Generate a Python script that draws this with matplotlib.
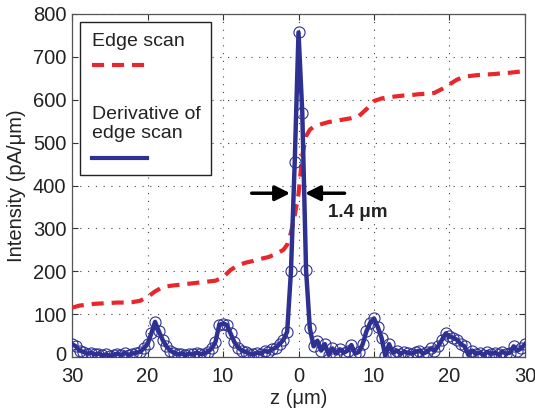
import numpy as np
import matplotlib
matplotlib.use("Agg")
import matplotlib.pyplot as plt
from matplotlib.lines import Line2D
from matplotlib.patches import Rectangle
from matplotlib.transforms import ScaledTranslation

plt.rcParams['font.family'] = ['Liberation Sans', 'DejaVu Sans']

# ---- data ----
edge_z = [-30, -29, -28, -27, -26, -25, -24, -23, -22, -21, -20, -19, -18, -17, -16, -15,
          -14, -13, -12, -11, -10, -9, -8, -7, -6, -5, -4, -3, -2, -1.5, -1, -0.5, 0,
          0.5, 1, 1.5, 2, 3, 4, 5, 6, 7, 8, 9, 10, 11, 12, 13, 14, 15, 16, 17, 18, 19,
          20, 21, 22, 23, 24, 25, 26, 27, 28, 29, 30]
edge_val = [115, 120, 122, 124, 125, 126, 127, 127, 128, 131, 140, 153, 163, 166, 168, 170,
            172, 174, 176, 178, 186, 203, 214, 220, 224, 229, 233, 240, 250, 262, 290, 330, 380,
            470, 515, 530, 537, 543, 548, 551, 554, 557, 562, 578, 597, 603, 606, 608, 610,
            611, 613, 614, 616, 625, 636, 647, 654, 656, 658, 659, 660, 662, 663, 665, 667]

deriv_z = np.linspace(-30, 30, 121)
deriv_val = [30, 25, 15, 12, 8, 10, 6, 8, 4, 6, 3, 5, 8, 4, 10, 5, 8, 10, 12, 20,
             30, 55, 82, 60, 40, 25, 15, 10, 6, 8, 5, 8, 6, 10, 7, 8, 12, 20, 35, 75,
             78, 75, 55, 35, 22, 15, 12, 8, 6, 10, 8, 14, 12, 18, 22, 30, 40, 59, 200, 455,
             757,
             570, 203, 67, 25, 38, 15, 30, 5, 20, 8, 18, 10, 15, 28, 8, 12, 30, 60, 80, 90,
             70, 45, 2, 30, 10, 15, 8, 12, 10, 8, 12, 15, 8, 12, 20, 15, 25, 40, 55, 48,
             45, 40, 30, 25, 5, 15, 8, 10, 5, 12, 8, 10, 6, 12, 8, 10, 25, 15, 20, 30]

xticks = [-30, -20, -10, 0, 10, 20, 30]
xtick_labels = ["30", "20", "10", "0", "10", "20", "30"]
yticks = [0, 100, 200, 300, 400, 500, 600, 700, 800]

fwhm_label = "1.4 μm"

red = '#E8262B'
blue = '#2E3192'
FS = 14.5

fig = plt.figure(figsize=(5.35, 4.09), dpi=100)
ax = fig.add_axes([0.1346, 0.1271, 0.8467, 0.8387])

ax.plot(edge_z, edge_val, color=red, lw=3.0, dashes=(2.9, 1.9), zorder=3)
ax.plot(deriv_z, deriv_val, color=blue, lw=3.2, zorder=4)
ax.plot(deriv_z, deriv_val, ls='none', marker='o', ms=8, mfc='none', mec=blue,
        mew=0.8, zorder=5)

ax.set_xlim(-30, 30)
ax.set_ylim(0, 800)
ax.set_xticks(xticks)
ax.set_xticklabels(xtick_labels)
ax.set_yticks(yticks)
ax.tick_params(direction='in', length=4, width=0.8, top=True, right=True,
               labelsize=FS, colors='#333333', labelcolor='#222222')
ax.tick_params(axis='x', pad=7)
ax.tick_params(axis='y', pad=4)
for s in ax.spines.values():
    s.set_color('#555555')
    s.set_linewidth(0.9)
ax.grid(True, color='#444444', linestyle=(0, (1, 6)), lw=0.8)
ax.set_axisbelow(True)

# nudge the "0" y tick label up slightly so it clears the x tick labels
lbl0 = ax.get_yticklabels()[0]
lbl0.set_transform(lbl0.get_transform() + ScaledTranslation(0, 0.04, fig.dpi_scale_trans))

ax.set_xlabel("z (μm)", fontsize=FS, color='#222222', labelpad=2)
ax.set_ylabel("Intensity (pA/μm)", fontsize=FS, color='#222222', labelpad=5)

# FWHM arrows
ax.annotate('', xy=(-1.1, 382), xytext=(-6.2, 382),
            arrowprops=dict(arrowstyle='-|>,head_length=0.9,head_width=0.45',
                            color='black', lw=2.5, shrinkA=0, shrinkB=0), zorder=6)
ax.annotate('', xy=(0.86, 382), xytext=(6.1, 382),
            arrowprops=dict(arrowstyle='-|>,head_length=0.9,head_width=0.45',
                            color='black', lw=2.5, shrinkA=0, shrinkB=0), zorder=6)
ax.text(3.9, 336, fwhm_label, fontsize=13.5, fontweight='bold', color='#222222',
        ha='left', va='center', zorder=6)

# Legend (manual, MATLAB style with text above sample lines)
tr = ax.transAxes
def ax_xy(px, py):
    return ((px - 72) / 453.0, (357 - py) / 343.0)

x0, y0 = ax_xy(80, 175)
x1, y1 = ax_xy(211, 22)
ax.add_patch(Rectangle((x0, y0), x1 - x0, y1 - y0, transform=tr, facecolor='white',
                       edgecolor='#222222', lw=1.0, zorder=7))
tx, ty = ax_xy(92, 42)
ax.text(tx, ty, "Edge scan", transform=tr, fontsize=14, color='#222222',
        va='center', ha='left', zorder=8)
lx0, ly = ax_xy(92, 65)
lx1, _ = ax_xy(147, 65)
ax.add_line(Line2D([lx0, lx1], [ly, ly], transform=tr, color=red, lw=3.0,
                   dashes=(2.9, 1.9), zorder=8))
tx, ty = ax_xy(92, 124)
ax.text(tx, ty, "Derivative of\nedge scan", transform=tr, fontsize=14, color='#222222',
        va='center', ha='left', linespacing=1.2, zorder=8)
lx0, ly = ax_xy(92, 158)
lx1, _ = ax_xy(147, 158)
ax.add_line(Line2D([lx0, lx1], [ly, ly], transform=tr, color=blue, lw=3.0, zorder=8))

fig.savefig("out.png", dpi=100)
